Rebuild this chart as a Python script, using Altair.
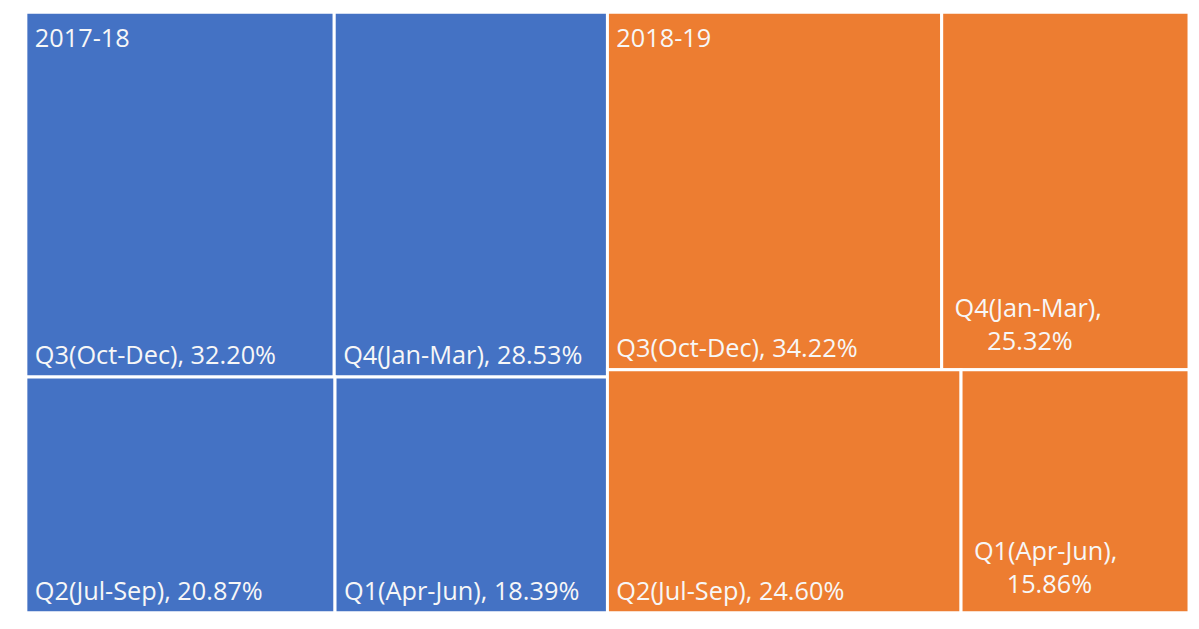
import altair as alt
import pandas as pd

# ---- data ----
years = ["2017-18", "2018-19"]
quarters = ["Q3(Oct-Dec)", "Q4(Jan-Mar)", "Q2(Jul-Sep)", "Q1(Apr-Jun)"]
share_2017_18 = [32.20, 28.53, 20.87, 18.39]
share_2018_19 = [34.22, 25.32, 24.60, 15.86]
row_of_quarter = [0, 0, 1, 1]          # 0 = upper row, 1 = lower row
wrap_2017_18 = [False, False, False, False]
wrap_2018_19 = [False, True, False, True]
colors = ["#4472C4", "#ED7D31"]

# ---- treemap layout in data units (each year = 100 x 100 block) ----
rows = []
groups = []
for gi, (year, vals, wraps) in enumerate(
    [(years[0], share_2017_18, wrap_2017_18), (years[1], share_2018_19, wrap_2018_19)]
):
    total = sum(vals)
    gx = gi * 100.0
    groups.append({"year": year, "x": gx, "y": 0.0})
    ytop = 0.0
    for r in (0, 1):
        idx = [i for i in range(len(quarters)) if row_of_quarter[i] == r]
        rsum = sum(vals[i] for i in idx)
        h = rsum / total * 100.0
        xcur = gx
        for i in idx:
            w = vals[i] / rsum * 100.0
            pct = f"{vals[i]:.2f}%"
            if wraps[i]:
                l1, l2 = f"{quarters[i]},", pct
            else:
                l1, l2 = f"{quarters[i]}, {pct}", ""
            rows.append({
                "year": year, "quarter": quarters[i], "share": vals[i],
                "x0": xcur, "x1": xcur + w, "y0": ytop, "y1": ytop + h,
                "line1": l1, "line2": l2, "wrapped": wraps[i],
            })
            xcur += w
        ytop += h

df = pd.DataFrame(rows)
gdf = pd.DataFrame(groups)

xs = alt.Scale(domain=[0, 200], nice=False, zero=False)
ys = alt.Scale(domain=[0, 100], nice=False, zero=False, reverse=True)
cs = alt.Scale(domain=years, range=colors)

FONT = "Open Sans"
FS = 25.5
TXT = "#F7F7F7"

base = alt.Chart(df)

rects = base.mark_rect(stroke="white", strokeWidth=3).encode(
    x=alt.X("x0:Q", scale=xs, axis=None),
    x2="x1:Q",
    y=alt.Y("y0:Q", scale=ys, axis=None),
    y2="y1:Q",
    color=alt.Color("year:N", scale=cs, legend=None),
    tooltip=["year:N", "quarter:N", "share:Q"],
)

single = base.transform_filter("!datum.wrapped").mark_text(
    align="left", baseline="alphabetic", dx=9, dy=-13,
    font=FONT, fontSize=FS, color=TXT,
).encode(x=alt.X("x0:Q", scale=xs), y=alt.Y("y1:Q", scale=ys), text="line1:N")

wrap1 = base.transform_filter("datum.wrapped").mark_text(
    align="left", baseline="alphabetic", dx=13, dy=-53,
    font=FONT, fontSize=FS, color=TXT,
).encode(x=alt.X("x0:Q", scale=xs), y=alt.Y("y1:Q", scale=ys), text="line1:N")

wrap2 = base.transform_filter("datum.wrapped").mark_text(
    align="left", baseline="alphabetic", dx=46, dy=-20,
    font=FONT, fontSize=FS, color=TXT,
).encode(x=alt.X("x0:Q", scale=xs), y=alt.Y("y1:Q", scale=ys), text="line2:N")

glabels = alt.Chart(gdf).mark_text(
    align="left", baseline="alphabetic", dx=9, dy=35,
    font=FONT, fontSize=FS, color=TXT,
).encode(x=alt.X("x:Q", scale=xs), y=alt.Y("y:Q", scale=ys), text="year:N")

chart = alt.layer(rects, single, wrap1, wrap2, glabels).properties(
    width=1172, height=605,
    padding={"left": 16, "top": 0, "right": 0, "bottom": 0},
).configure_view(strokeWidth=0).configure(background="white")

chart.save("out.html", embed_options={"renderer": "svg", "actions": False})
